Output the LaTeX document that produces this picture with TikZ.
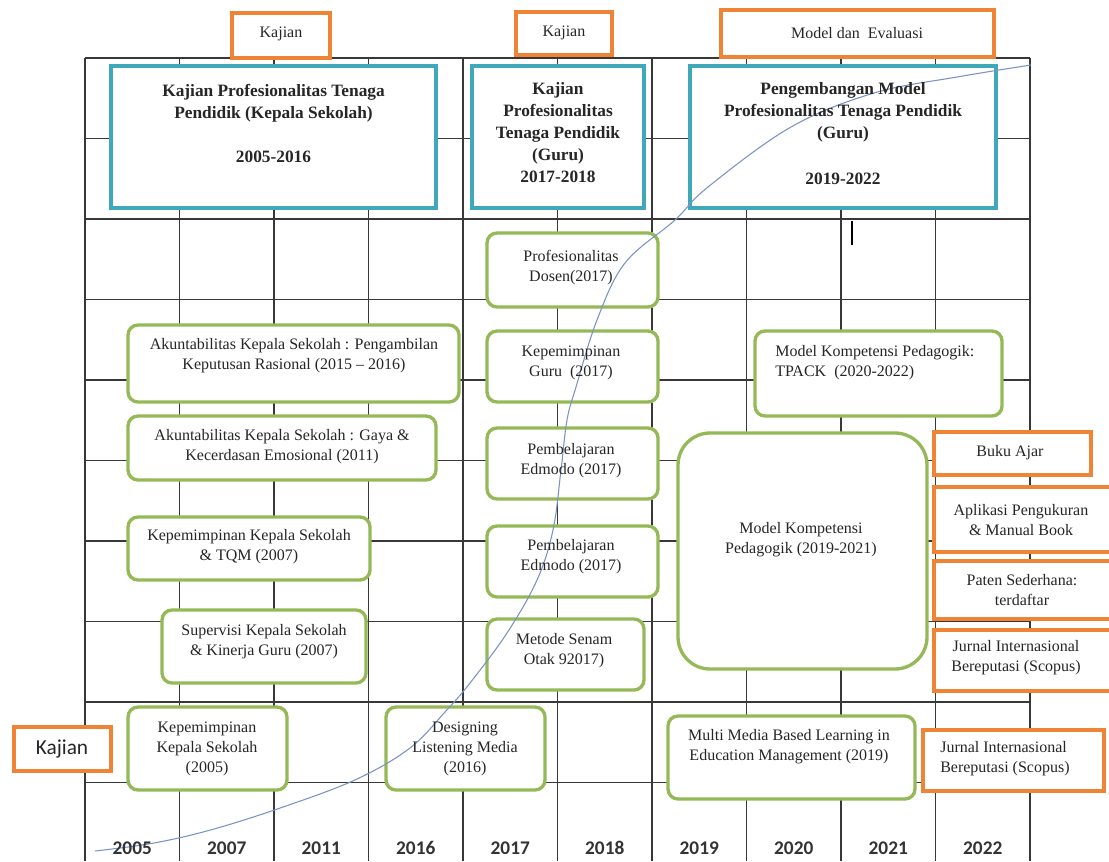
\documentclass[tikz,border=0pt]{standalone}
\usepackage{fontspec}
\setmainfont{Liberation Serif}
\newfontfamily\calibrifont{Carlito}
\usepackage{tikz}
\usepackage{xcolor}

\definecolor{kajianorange}{HTML}{EE8434}
\definecolor{headteal}{HTML}{3FA9BA}
\definecolor{boxgreen}{HTML}{95B957}
\definecolor{gridgray}{HTML}{383838}
\definecolor{curveblue}{HTML}{7B93C4}

\tikzset{
  gridline/.style={draw=gridgray, line width=1.05pt},
  orangebox/.style={draw=kajianorange, line width=2.6pt, fill=white},
  tealbox/.style={draw=headteal, line width=2.8pt, fill=white},
  greenbox/.style={draw=boxgreen, line width=2.5pt, fill=white, rounded corners=7.5pt},
  boxtext/.style={align=center, inner sep=0pt, text=black!85, font=\fontsize{12}{15}\selectfont},
  headtext/.style={align=center, inner sep=0pt, text=black!85, font=\fontsize{13}{16.5}\selectfont\bfseries},
  yeartext/.style={inner sep=0pt, text=black!80, font=\calibrifont\bfseries\fontsize{14.5}{16}\selectfont},
}

\begin{document}
\begin{tikzpicture}[x=0.75pt,y=0.75pt,yscale=-1,xscale=1]
\useasboundingbox (0,0) rectangle (1109,861);
\clip (0,0) rectangle (1109,861);

%Grid: year columns and rows
\foreach \gx in {85,179.5,274,368.5,463,557.5,652,746.5,841,935.5,1030}
  \draw[gridline] (\gx,58) -- (\gx,861);
\foreach \gy in {58,138.5,219,299.5,380,460.5,541,621.5,702,782.5}
  \draw[gridline] (85,\gy) -- (1030,\gy);

%Shape: Rectangle (top labels)
\draw[orangebox] (232,13) rectangle (330,58);
\draw[orangebox] (516,12) rectangle (612,55);
\draw[orangebox] (721,10) rectangle (994,57);

%Shape: Rectangle (period headers)
\draw[tealbox] (111,66) rectangle (436,208);
\draw[tealbox] (472,66) rectangle (644,208);
\draw[tealbox] (690,66) rectangle (996,208);

%Shape: Rounded Rect (studies 2005-2016)
\draw[greenbox] (128,325) rectangle (459,402);
\draw[greenbox] (128,416) rectangle (436,480);
\draw[greenbox] (128,517) rectangle (370,580);
\draw[greenbox] (162,610) rectangle (366,683);
\draw[greenbox] (128,707) rectangle (287,790);
\draw[greenbox] (386,707) rectangle (545,790);

%Shape: Rounded Rect (studies 2017-2018)
\draw[greenbox] (487,233) rectangle (658,307);
\draw[greenbox] (487,331) rectangle (658,402);
\draw[greenbox] (487,428) rectangle (658,499);
\draw[greenbox] (487,526) rectangle (658,597);
\draw[greenbox] (487,619) rectangle (644,690);

%Shape: Rounded Rect (models 2019-2022)
\draw[greenbox] (755,331) rectangle (1002,416);
\draw[greenbox, rounded corners=24pt] (678,433) rectangle (927,669);
\draw[greenbox] (668,716) rectangle (915,799);

%Shape: Rectangle (outputs)
\draw[orangebox] (934,432) rectangle (1091,475);
\draw[orangebox] (934,487) rectangle (1112,552);
\draw[orangebox] (934,561) rectangle (1112,619);
\draw[orangebox] (934,630) rectangle (1112,691);
\draw[orangebox] (923,730) rectangle (1104,791);
\draw[orangebox] (14,727) rectangle (111,771);

%Curve Lines
\draw[curveblue, line width=0.8pt] plot[smooth, tension=0.6] coordinates {(95,851) (154,843) (214,829) (286,806) (357,779) (410,748) (445,712) (470,683) (507,633) (537,580) (553,530) (561,470) (567,420) (576,387) (597,320) (625,263) (675,220) (708,187) (791,127) (874,93) (957,77) (1031,65)};

%Straight Lines
\draw[line width=2.2pt] (852,221) -- (852,245);

% Text Node
\draw (281,34) node [boxtext] (kajian-a) {Kajian};
\draw (564,33) node [boxtext] (kajian-b) {Kajian};
\draw (857,33) node [boxtext] (model-eval) {Model dan~ Evaluasi};
\draw (62,749) node [inner sep=0pt, text=black!85, font=\calibrifont\fontsize{16}{18}\selectfont] (kajian-c) {Kajian};
% Text Node
\draw (273.5,123.5) node [headtext] (head-ks) {Kajian Profesionalitas Tenaga\\Pendidik (Kepala Sekolah)\\[17pt]2005-2016};
\draw (558,133) node [headtext] (head-guru) {Kajian\\Profesionalitas\\Tenaga Pendidik\\(Guru)\\2017-2018};
\draw (843,133.5) node [headtext] (head-model) {Pengembangan Model\\Profesionalitas Tenaga Pendidik\\(Guru)\\[18pt]2019-2022};
% Text Node
\draw (294,356) node [boxtext] (akun-rasional) {Akuntabilitas Kepala Sekolah : Pengambilan\\Keputusan Rasional (2015 -- 2016)};
\draw (282,447) node [boxtext] (akun-emosi) {Akuntabilitas Kepala Sekolah : Gaya \&\\Kecerdasan Emosional (2011)};
\draw (249,547) node [boxtext] (kep-tqm) {Kepemimpinan Kepala Sekolah\\\& TQM (2007)};
\draw (264,642) node [boxtext] (supervisi) {Supervisi Kepala Sekolah\\\& Kinerja Guru (2007)};
\draw (207,749) node [boxtext] (kep-ks) {Kepemimpinan\\Kepala Sekolah\\(2005)};
\draw (465,749) node [boxtext] (listening) {Designing\\Listening Media\\(2016)};
% Text Node
\draw (571,268) node [boxtext] (dosen) {Profesionalitas\\Dosen(2017)};
\draw (571,363) node [boxtext] (kep-guru) {Kepemimpinan\\Guru~ (2017)};
\draw (571,461) node [boxtext] (edmodo-a) {Pembelajaran\\Edmodo (2017)};
\draw (571,557) node [boxtext] (edmodo-b) {Pembelajaran\\Edmodo (2017)};
\draw (564,651) node [boxtext] (senam) {Metode Senam\\Otak 92017)};
% Text Node
\draw (775,363) node [boxtext, anchor=west, align=left] (tpack) {Model Kompetensi Pedagogik:\\TPACK~ (2020-2022)};
\draw (801,540) node [boxtext] (pedagogik) {Model Kompetensi\\Pedagogik (2019-2021)};
\draw (789,747) node [boxtext] (multimedia) {Multi Media Based Learning in\\Education Management (2019)};
% Text Node
\draw (1010,453) node [boxtext] (buku) {Buku Ajar};
\draw (1021,520) node [boxtext] (aplikasi) {Aplikasi Pengukuran\\\& Manual Book};
\draw (1022,590) node [boxtext] (paten) {Paten Sederhana:\\terdaftar};
\draw (1016,658) node [boxtext] (jurnal-a) {Jurnal Internasional\\Bereputasi (Scopus)};
\draw (940,759) node [boxtext, anchor=west, align=left] (jurnal-b) {Jurnal Internasional\\Bereputasi (Scopus)};

% Text Node (years)
\foreach \yr [count=\i from 0] in {2005,2007,2011,2016,2017,2018,2019,2020,2021,2022}
  \draw ({132.25+94.5*\i},848) node [yeartext] (year-\yr) {\yr};

\end{tikzpicture}
\end{document}
